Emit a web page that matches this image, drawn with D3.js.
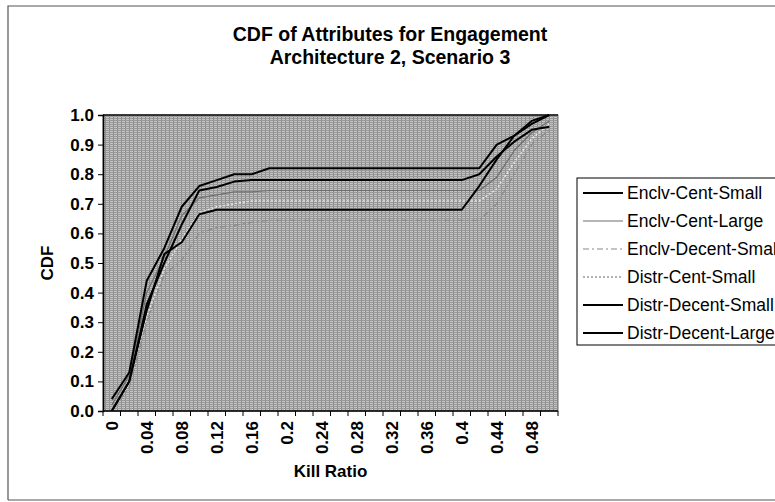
<!DOCTYPE html>
<html>
<head>
<meta charset="utf-8">
<script src="https://cdn.jsdelivr.net/npm/d3@7"></script>
<style>
  html, body { margin: 0; padding: 0; background: #ffffff; }
  svg { display: block; font-family: "Liberation Sans", Arial, sans-serif; }
</style>
</head>
<body>
<svg id="chart" width="775" height="502"></svg>
<script>
// ---------- data ----------
const categories = [0, 0.02, 0.04, 0.06, 0.08, 0.10, 0.12, 0.14, 0.16, 0.18, 0.20, 0.22, 0.24,
                    0.26, 0.28, 0.30, 0.32, 0.34, 0.36, 0.38, 0.40, 0.42, 0.44, 0.46, 0.48, 0.50];
const tickLabels = ["0", "0.04", "0.08", "0.12", "0.16", "0.2", "0.24", "0.28", "0.32", "0.36", "0.4", "0.44", "0.48"];
const yTicks = [0, 0.1, 0.2, 0.3, 0.4, 0.5, 0.6, 0.7, 0.8, 0.9, 1.0];
const seriesNames = ["Enclv-Cent-Small", "Enclv-Cent-Large", "Enclv-Decent-Small",
                     "Distr-Cent-Small", "Distr-Decent-Small", "Distr-Decent-Large"];
const enclvCentSmall   = [0.04, 0.13, 0.44, 0.55, 0.69, 0.76, 0.78, 0.80, 0.80, 0.82, 0.82, 0.82, 0.82,
                          0.82, 0.82, 0.82, 0.82, 0.82, 0.82, 0.82, 0.82, 0.82, 0.90, 0.93, 0.98, 1.00];
const enclvCentLarge   = [0.02, 0.12, 0.40, 0.52, 0.66, 0.72, 0.73, 0.74, 0.74, 0.745, 0.745, 0.745, 0.745,
                          0.745, 0.745, 0.745, 0.745, 0.745, 0.745, 0.745, 0.745, 0.745, 0.79, 0.88, 0.94, 0.98];
const enclvDecentSmall = [0.00, 0.08, 0.30, 0.46, 0.51, 0.60, 0.62, 0.627, 0.637, 0.644, 0.644, 0.644, 0.644,
                          0.644, 0.644, 0.644, 0.644, 0.644, 0.644, 0.644, 0.644, 0.644, 0.70, 0.80, 0.90, 0.95];
const distrCentSmall   = [0.00, 0.09, 0.32, 0.48, 0.58, 0.67, 0.69, 0.70, 0.71, 0.71, 0.71, 0.71, 0.71,
                          0.71, 0.71, 0.71, 0.71, 0.71, 0.71, 0.71, 0.71, 0.71, 0.75, 0.84, 0.92, 0.97];
const distrDecentSmall = [0.00, 0.10, 0.36, 0.50, 0.63, 0.745, 0.757, 0.775, 0.78, 0.78, 0.78, 0.78, 0.78,
                          0.78, 0.78, 0.78, 0.78, 0.78, 0.78, 0.78, 0.78, 0.80, 0.86, 0.91, 0.95, 0.96];
const distrDecentLarge = [0.00, 0.10, 0.34, 0.53, 0.57, 0.665, 0.68, 0.68, 0.68, 0.68, 0.68, 0.68, 0.68,
                          0.68, 0.68, 0.68, 0.68, 0.68, 0.68, 0.68, 0.68, 0.76, 0.85, 0.93, 0.97, 1.00];

const seriesValues = [enclvCentSmall, enclvCentLarge, enclvDecentSmall, distrCentSmall, distrDecentSmall, distrDecentLarge];
const seriesStyles = [
  { color: "#000000", width: 2,   dash: null },
  { color: "#6e6e6e", width: 1.2, dash: null },
  { color: "#8a8a8a", width: 1.2, dash: "6,3,2,3" },
  { color: "#e8e8e8", width: 1.4, dash: "2,2" },
  { color: "#000000", width: 2,   dash: null },
  { color: "#000000", width: 2,   dash: null }
];

// ---------- layout ----------
const svg = d3.select("#chart");
const plot = { left: 103, right: 558, top: 115, bottom: 411 };

// chart-area border
svg.append("path")
  .attr("d", "M8,500 L8,6 L790,6 M8,500 L790,500")
  .attr("fill", "none").attr("stroke", "#555").attr("stroke-width", 1.2);

// texture pattern for plot area
const defs = svg.append("defs");
const pat = defs.append("pattern").attr("id", "tex").attr("patternUnits", "userSpaceOnUse")
  .attr("width", 4).attr("height", 2);
pat.append("rect").attr("width", 4).attr("height", 2).attr("fill", "#c4c4c4");
pat.append("rect").attr("width", 4).attr("height", 1).attr("fill", "#999999");
pat.append("rect").attr("x", 1).attr("y", 1).attr("width", 1).attr("height", 1).attr("fill", "#888888");

svg.append("rect")
  .attr("x", plot.left).attr("y", plot.top)
  .attr("width", plot.right - plot.left).attr("height", plot.bottom - plot.top)
  .attr("fill", "url(#tex)").attr("stroke", "#777").attr("stroke-width", 1);
svg.append("line").attr("x1", plot.left).attr("x2", plot.right).attr("y1", plot.top).attr("y2", plot.top)
  .attr("stroke", "#111").attr("stroke-width", 1.5);

// scales
const x = d3.scaleBand().domain(categories).range([plot.left, plot.right]).paddingInner(0).paddingOuter(0);
const y = d3.scaleLinear().domain([0, 1]).range([plot.bottom, plot.top]);
const cx = c => x(c) + x.bandwidth() / 2;

// y axis
const yAxis = d3.axisLeft(y).tickValues(yTicks).tickFormat(d3.format(".1f")).tickSize(5).tickPadding(4);
const gy = svg.append("g").attr("transform", `translate(${plot.left},0)`).call(yAxis);
gy.select(".domain").attr("stroke", "#000").attr("stroke-width", 1.5);
gy.selectAll(".tick line").attr("stroke", "#000");
gy.selectAll("text").attr("font-size", 17).attr("font-weight", "bold").attr("fill", "#000")
  .attr("font-family", "Liberation Sans, Arial, sans-serif");

// x axis: ticks at category boundaries, labels every 2nd category
const boundaries = categories.map(c => x(c)).concat([plot.right]);
const gx = svg.append("g");
gx.append("line").attr("x1", plot.left).attr("x2", plot.right).attr("y1", plot.bottom).attr("y2", plot.bottom)
  .attr("stroke", "#000").attr("stroke-width", 1.5);
gx.selectAll("line.tk").data(boundaries).enter().append("line").attr("class", "tk")
  .attr("x1", d => d).attr("x2", d => d).attr("y1", plot.bottom).attr("y2", plot.bottom + 5)
  .attr("stroke", "#000");
const labelCats = categories.filter((c, i) => i % 2 === 0 && i / 2 < tickLabels.length);
gx.selectAll("text.xl").data(labelCats).enter().append("text").attr("class", "xl")
  .attr("transform", d => `translate(${cx(d)},${plot.bottom + 10}) rotate(-90)`)
  .attr("dy", "0.35em").attr("text-anchor", "end")
  .attr("font-size", 17).attr("font-weight", "bold")
  .text((d, i) => tickLabels[i]);

// lines
const line = d3.line().x((v, i) => cx(categories[i])).y(v => y(v));
const order = [3, 2, 1, 5, 4, 0];
order.forEach(k => {
  svg.append("path").datum(seriesValues[k])
    .attr("d", line).attr("fill", "none")
    .attr("stroke", seriesStyles[k].color).attr("stroke-width", seriesStyles[k].width)
    .attr("stroke-dasharray", seriesStyles[k].dash)
    .attr("stroke-linejoin", "round");
});

// titles
const title = svg.append("text").attr("text-anchor", "middle").attr("font-size", 19.5).attr("font-weight", "bold");
title.append("tspan").attr("x", 390).attr("y", 41).text("CDF of Attributes for Engagement");
title.append("tspan").attr("x", 390).attr("y", 64).text("Architecture 2, Scenario 3");

svg.append("text").attr("x", (plot.left + plot.right) / 2).attr("y", 477)
  .attr("text-anchor", "middle").attr("font-size", 17).attr("font-weight", "bold").text("Kill Ratio");
svg.append("text").attr("transform", `translate(47,${(plot.top + plot.bottom) / 2}) rotate(-90)`)
  .attr("dy", "0.35em").attr("text-anchor", "middle").attr("font-size", 17).attr("font-weight", "bold").text("CDF");

// legend
const lg = svg.append("g");
lg.append("rect").attr("x", 577).attr("y", 178).attr("width", 230).attr("height", 167)
  .attr("fill", "#fff").attr("stroke", "#000").attr("stroke-width", 1);
const legY = d3.scalePoint().domain(seriesNames).range([193, 333]);
seriesNames.forEach((name, k) => {
  const yy = legY(name);
  lg.append("line").attr("x1", 583).attr("x2", 623).attr("y1", yy).attr("y2", yy)
    .attr("stroke", k === 3 ? "#999" : seriesStyles[k].color)
    .attr("stroke-width", seriesStyles[k].width)
    .attr("stroke-dasharray", seriesStyles[k].dash);
  lg.append("text").attr("x", 627).attr("y", yy).attr("dy", "0.35em")
    .attr("font-size", 17.5).text(name);
});
</script>
</body>
</html>
